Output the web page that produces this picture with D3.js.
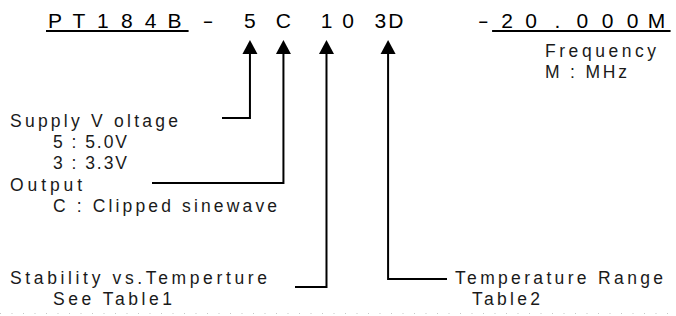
<!DOCTYPE html>
<html>
<head>
<meta charset="utf-8">
<script src="https://cdn.jsdelivr.net/npm/d3@7"></script>
<style>
  body { margin: 0; background: #fff; }
  svg { display: block; }
</style>
</head>
<body>
<div class="diagram"></div>
<script>
// part number glyphs and their slot along the code line
const partGlyphs = ["P","T","1","8","4","B","-","5","C","1","0","3","D","-","2","0",".","0","0","0","M"];
const glyphSlots = [0, 1, 2, 3, 4, 5, 6.4, 8.15, 9.55, 11.35, 12.25, 13.6, 14.25, 17.9, 18.9, 19.9, 21, 22.05, 23.1, 24.15, 25.15];
const underlinedRuns = [[0, 5], [14, 20]];

// legend entries and the glyphs each arrow points at
const fieldLines = [
  ["Supply V oltage", "5 : 5.0V", "3 : 3.3V"],
  ["Output", "C : Clipped sinewave"],
  ["Stability vs.Temperture", "See Table1"],
  ["Temperature Range", "Table2"],
  ["Frequency", "M : MHz"]
];
const fieldTargets = [[7], [8], [9], [11, 12], null];

const width = 676;
const height = 316;

// where each legend block sits, and where its leader bends
const layout = [
  { x: 10,  y: 127, indent: 43, widths: [168, 74, 74], bendY: 118, endX: 222 },
  { x: 10,  y: 191, indent: 43, widths: [72, 224],     bendY: 183, endX: 152 },
  { x: 10,  y: 284, indent: 43, widths: [257, 119],    bendY: 287, endX: 295 },
  { x: 455, y: 284, indent: 17, widths: [208, 68],     bendY: 279, endX: 447 },
  { x: 545, y: 57,  indent: 0,  widths: [111, 82] }
];
const lineGap = 21;

const svg = d3.select(".diagram")
  .append("svg")
  .attr("width", width)
  .attr("height", height);

const x = d3.scaleLinear()
  .domain([0, 25])
  .range([55, 653]);

const codeBase = 28;

// part number
svg.append("g")
  .attr("font-family", "'Liberation Sans', Arial, sans-serif")
  .attr("font-size", 21)
  .attr("fill", "#000")
  .attr("text-anchor", "middle")
  .selectAll("text")
  .data(partGlyphs)
  .join("text")
  .attr("x", (d, i) => x(glyphSlots[i]))
  .attr("y", codeBase)
  .attr("textLength", d => d === "-" ? 11 : null)
  .attr("lengthAdjust", d => d === "-" ? "spacingAndGlyphs" : null)
  .text(d => d);

svg.append("g")
  .attr("stroke", "#000")
  .attr("stroke-width", 2)
  .selectAll("line")
  .data(underlinedRuns)
  .join("line")
  .attr("x1", (d, i) => x(glyphSlots[d[0]]) - (i === 0 ? 9 : 15))
  .attr("x2", d => x(glyphSlots[d[1]]) + 14)
  .attr("y1", codeBase + 3)
  .attr("y2", codeBase + 3);

// arrows + leaders
const arrowTip = 40;
const arrowBase = 54;
const arrows = fieldTargets
  .map((t, i) => t && { ax: d3.mean(t, g => x(glyphSlots[g])), lay: layout[i] })
  .filter(d => d);

const ag = svg.append("g");
ag.selectAll("path.leader")
  .data(arrows)
  .join("path")
  .attr("class", "leader")
  .attr("fill", "none")
  .attr("stroke", "#000")
  .attr("stroke-width", 2)
  .attr("d", d => d3.line()([[d.ax, arrowBase - 1], [d.ax, d.lay.bendY], [d.lay.endX, d.lay.bendY]]));

ag.selectAll("path.head")
  .data(arrows)
  .join("path")
  .attr("class", "head")
  .attr("fill", "#000")
  .attr("d", d => d3.line()([[d.ax, arrowTip], [d.ax + 7.5, arrowBase], [d.ax - 7.5, arrowBase]]) + "Z");

// legend text
const blocks = svg.append("g")
  .attr("font-family", "'Liberation Sans', Arial, sans-serif")
  .attr("font-size", 17.5)
  .attr("fill", "#1a1a1a")
  .selectAll("g")
  .data(fieldLines)
  .join("g");

blocks.selectAll("text")
  .data((lines, i) => lines.map((t, j) => ({ t, j, lay: layout[i] })))
  .join("text")
  .attr("x", d => d.lay.x + (d.j > 0 ? d.lay.indent : 0))
  .attr("y", d => d.lay.y + d.j * lineGap)
  .attr("textLength", d => d.lay.widths[d.j])
  .attr("lengthAdjust", "spacing")
  .text(d => d.t);

// faint page edge
svg.append("line")
  .attr("x1", 0)
  .attr("x2", width)
  .attr("y1", 313.5)
  .attr("y2", 313.5)
  .attr("stroke", "#c8c8c8")
  .attr("stroke-dasharray", "1 10.5");
</script>
</body>
</html>
